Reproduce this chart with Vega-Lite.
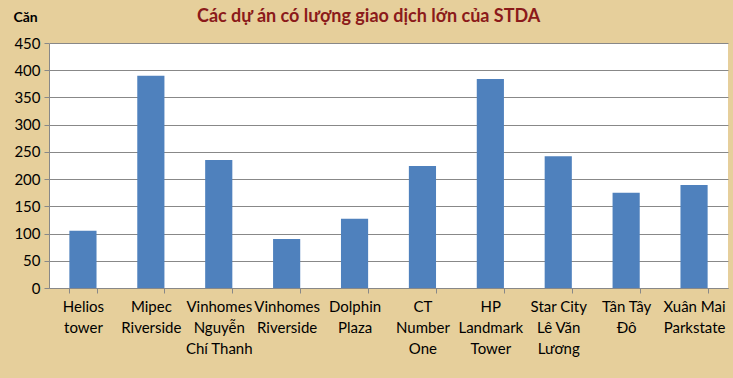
{
  "$schema": "https://vega.github.io/schema/vega-lite/v6.json",
  "autosize": "none",
  "width": 679,
  "height": 245,
  "padding": {"left": 49, "top": 43, "right": 5, "bottom": 90},
  "background": "#E6CF9B",
  "view": {"fill": "#FFFFFF", "stroke": null},
  "title": {
    "text": "Các dự án có lượng giao dịch lớn của STDA",
    "anchor": "start",
    "frame": "group",
    "dx": 148,
    "offset": -16,
    "font": "Lato",
    "fontSize": 18,
    "fontWeight": "bold",
    "color": "#8B1A1A"
  },
  "data": {
    "values": [
      {"project": "Helios|tower", "can": 105},
      {"project": "Mipec|Riverside", "can": 390},
      {"project": "Vinhomes|Nguyễn|Chí Thanh", "can": 235},
      {"project": "Vinhomes |Riverside", "can": 90},
      {"project": "Dolphin|Plaza", "can": 127},
      {"project": "CT|Number|One", "can": 224},
      {"project": "HP|Landmark|Tower", "can": 384},
      {"project": "Star City|Lê Văn|Lương", "can": 242},
      {"project": "Tân Tây|Đô", "can": 175},
      {"project": "Xuân Mai|Parkstate", "can": 189}
    ]
  },
  "mark": {"type": "bar", "color": "#4F81BD"},
  "encoding": {
    "x": {
      "field": "project",
      "type": "nominal",
      "sort": null,
      "scale": {"paddingInner": 0.6, "paddingOuter": 0.3},
      "axis": {
        "title": null,
        "labelAngle": 0,
        "labelExpr": "split(datum.label, '|')",
        "labelFont": "Lato",
        "labelFontSize": 15,
        "labelLineHeight": 21,
        "labelColor": "#000000",
        "labelPadding": 6,
        "labelBaseline": "top",
        "tickBand": "extent",
        "tickColor": "#888888",
        "tickSize": 5,
        "domainColor": "#888888",
        "labelLimit": 0
      }
    },
    "y": {
      "field": "can",
      "type": "quantitative",
      "scale": {"domain": [0, 450]},
      "axis": {
        "values": [0, 50, 100, 150, 200, 250, 300, 350, 400, 450],
        "title": "Căn",
        "titleAngle": 0,
        "titleAlign": "left",
        "titleBaseline": "middle",
        "titleX": -36,
        "titleY": -26,
        "titleFont": "Lato",
        "titleFontSize": 14,
        "titleFontWeight": "bold",
        "titleColor": "#000000",
        "labelFont": "Lato",
        "labelFontSize": 15,
        "labelColor": "#000000",
        "labelPadding": 4,
        "gridColor": "#888888",
        "gridWidth": 1,
        "tickColor": "#888888",
        "tickSize": 5,
        "domainColor": "#888888"
      }
    }
  }
}
